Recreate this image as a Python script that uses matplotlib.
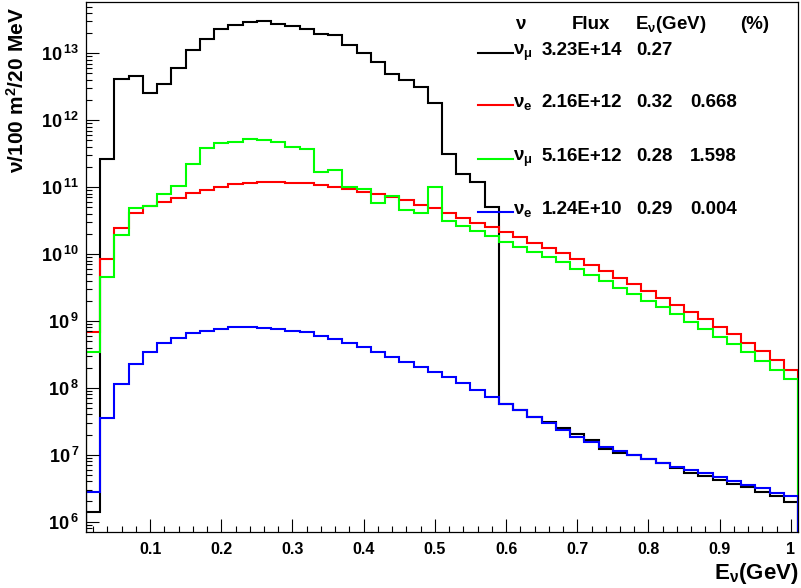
import numpy as np
import matplotlib
matplotlib.use("Agg")
import matplotlib.pyplot as plt
from matplotlib.ticker import FixedLocator, FuncFormatter, MultipleLocator, NullFormatter

plt.rcParams["font.family"] = ["Liberation Sans", "DejaVu Sans"]
plt.rcParams["font.weight"] = "bold"
plt.rcParams["mathtext.fontset"] = "custom"
plt.rcParams["mathtext.rm"] = "Liberation Sans"
plt.rcParams["mathtext.bf"] = "Liberation Sans:bold"
plt.rcParams["mathtext.it"] = "Liberation Sans:italic"

# 20 MeV bins from 0.01 to 1.01 GeV
edges = np.round(np.arange(0.01, 1.0101, 0.02), 3)

numu = [1.41e6, 2.63e11, 4.13e12, 4.58e12, 2.58e12, 3.51e12, 6.03e12, 1.11e13, 1.65e13, 2.31e13,
        2.68e13, 2.97e13, 3.01e13, 2.71e13, 2.56e13, 2.31e13, 1.94e13, 1.90e13, 1.34e13, 1.00e13,
        7.49e12, 4.85e12, 3.99e12, 3.10e12, 1.79e12, 3.13e11, 1.57e11, 1.21e11, 4.99e10, 5.73e7,
        4.66e7, 3.70e7, 3.11e7, 2.48e7, 2.04e7, 1.66e7, 1.20e7, 1.07e7, 9.91e6, 8.63e6,
        7.44e6, 6.27e6, 5.27e6, 4.81e6, 4.19e6, 3.65e6, 3.26e6, 2.80e6, 2.42e6, 1.99e6]

nue = [6.90e8, 8.51e9, 2.42e10, 4.06e10, 5.22e10, 6.05e10, 6.95e10, 8.08e10, 9.06e10, 1.01e11,
       1.10e11, 1.14e11, 1.18e11, 1.18e11, 1.14e11, 1.14e11, 1.07e11, 1.00e11, 9.37e10, 8.54e10,
       7.80e10, 7.19e10, 6.41e10, 5.40e10, 4.82e10, 4.06e10, 3.42e10, 2.94e10, 2.51e10, 2.15e10,
       1.78e10, 1.48e10, 1.24e10, 1.02e10, 8.33e9, 6.78e9, 5.57e9, 4.43e9, 3.52e9, 2.82e9,
       2.22e9, 1.73e9, 1.37e9, 1.07e9, 8.18e8, 6.31e8, 4.72e8, 3.55e8, 2.61e8, 1.85e8]

numubar = [3.47e8, 4.49e9, 1.92e10, 4.82e10, 5.27e10, 7.89e10, 1.04e11, 2.21e11, 3.80e11, 4.61e11,
           4.68e11, 5.18e11, 5.06e11, 4.68e11, 4.02e11, 3.68e11, 1.67e11, 1.82e11, 1.00e11, 9.37e10,
           5.73e10, 7.43e10, 4.55e10, 4.06e10, 9.93e10, 3.11e10, 2.62e10, 2.21e10, 1.88e10, 1.53e10,
           1.29e10, 1.08e10, 8.93e9, 7.52e9, 5.91e9, 4.85e9, 3.95e9, 3.13e9, 2.52e9, 2.00e9,
           1.60e9, 1.26e9, 9.73e8, 7.57e8, 5.81e8, 4.47e8, 3.40e8, 2.52e8, 1.85e8, 1.36e8]

nuebar = [2.74e6, 3.57e7, 1.14e8, 2.25e8, 3.47e8, 4.63e8, 5.50e8, 6.53e8, 7.14e8, 7.65e8,
          8.11e8, 8.11e8, 7.91e8, 7.65e8, 7.14e8, 6.72e8, 5.99e8, 5.31e8, 4.68e8, 4.03e8,
          3.43e8, 2.92e8, 2.46e8, 2.07e8, 1.74e8, 1.44e8, 1.17e8, 9.27e7, 7.36e7, 5.73e7,
          4.66e7, 3.70e7, 3.01e7, 2.38e7, 1.87e7, 1.56e7, 1.32e7, 1.14e7, 9.91e6, 8.63e6,
          7.59e6, 6.62e6, 5.91e6, 5.27e6, 4.69e6, 4.05e6, 3.52e6, 3.15e6, 2.70e6, 2.44e6]

series = [numu, nue, numubar, nuebar]
colors = ["#000000", "#ff0000", "#00ff00", "#0000ff"]
legend_flavour = [r"$\mathrm{\nu}_{\mathrm{\mu}}$", r"$\mathrm{\nu}_{\mathbf{e}}$",
                  r"$\mathrm{\nu}_{\mathrm{\mu}}$", r"$\mathrm{\nu}_{\mathbf{e}}$"]
legend_flux = ["3.23E+14", "2.16E+12", "5.16E+12", "1.24E+10"]
legend_mean = ["0.27", "0.32", "0.28", "0.29"]
legend_pct = ["", "0.668", "1.598", "0.004"]
y_decades = [6, 7, 8, 9, 10, 11, 12, 13]

fig = plt.figure(figsize=(8.01, 5.88), dpi=100)
ax = fig.add_axes([86 / 801, 56 / 588, 712 / 801, 530 / 588])

for vals, c in zip(series, colors):
    ax.stairs(vals, edges, baseline=1e4, color=c, linewidth=1.5)

ax.set_yscale("log")
ax.set_xlim(0.01, 1.01)
ax.set_ylim(7.0e5, 5.85e13)

ax.xaxis.set_major_locator(MultipleLocator(0.1))
ax.xaxis.set_minor_locator(MultipleLocator(0.02))
ax.xaxis.set_major_formatter(FuncFormatter(lambda v, p: "1" if abs(v - 1) < 1e-6 else f"{v:.1f}"))
minor_y = [m * 10.0 ** d for d in [5] + y_decades for m in range(2, 10)]
ax.yaxis.set_major_locator(FixedLocator([10.0 ** d for d in y_decades]))
ax.yaxis.set_minor_locator(FixedLocator([v for v in minor_y if 7.0e5 < v < 5.85e13]))
ax.yaxis.set_minor_formatter(NullFormatter())
ax.yaxis.set_major_formatter(FuncFormatter(lambda v, p: r"$\mathbf{10^{\,%d}}$" % round(np.log10(v))))

ax.tick_params(which="both", direction="in", top=False, right=False, width=0.8)
ax.tick_params(which="major", length=9.5)
ax.tick_params(which="minor", length=4.5)
ax.tick_params(axis="x", pad=7, labelsize=11.5)
ax.tick_params(axis="y", pad=5, labelsize=13)
for s in ax.spines.values():
    s.set_linewidth(0.9)

ax.set_xlabel(r"$\mathbf{E}_{\mathrm{\nu}}\mathbf{(GeV)}$", fontsize=16, loc="right")
ax.xaxis.set_label_coords(1.0, -0.054)
ax.set_ylabel(r"$\mathrm{\nu}\mathbf{/100\ m^{2}/20\ MeV}$", fontsize=15, loc="top")
ax.yaxis.set_label_coords(-0.082, 0.99)

# legend table
fs = 13.5
ax.text(0.6025, 0.949, r"$\mathrm{\nu}$", transform=ax.transAxes, fontsize=fs, ha="left", va="baseline")
ax.text(0.682, 0.949, "Flux", transform=ax.transAxes, fontsize=fs, ha="left", va="baseline")
ax.text(0.771, 0.949, r"$\mathbf{E}_{\mathrm{\nu}}\mathbf{(GeV)}$", transform=ax.transAxes, fontsize=fs,
        ha="left", va="baseline")
ax.text(0.9185, 0.949, "(%)", transform=ax.transAxes, fontsize=fs, ha="left", va="baseline")

row_y = [0.900, 0.801, 0.700, 0.600]
for y, c, lab, fl, me, pc in zip(row_y, colors, legend_flavour, legend_flux, legend_mean, legend_pct):
    ax.plot([0.5506, 0.5997], [y + 0.004, y + 0.004], color=c, linewidth=1.5,
            transform=ax.transAxes, clip_on=False)
    ax.text(0.5997, y, lab, transform=ax.transAxes, fontsize=fs, ha="left", va="baseline")
    ax.text(0.640, y, fl, transform=ax.transAxes, fontsize=fs, ha="left", va="baseline")
    ax.text(0.7734, y, me, transform=ax.transAxes, fontsize=fs, ha="left", va="baseline")
    if pc:
        ax.text(0.848, y, pc, transform=ax.transAxes, fontsize=fs, ha="left", va="baseline")

fig.savefig("out.png", dpi=100)
